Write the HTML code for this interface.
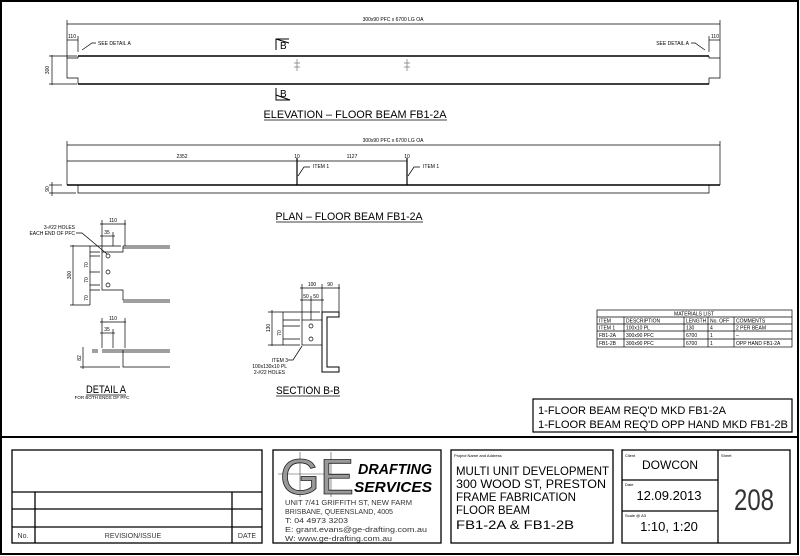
<!DOCTYPE html>
<html><head><meta charset="utf-8"><style>
html,body{margin:0;padding:0;background:#fff;}
svg{display:block;font-family:"Liberation Sans",sans-serif;}
</style></head><body>
<svg width="800" height="556" viewBox="0 0 800 556" xmlns="http://www.w3.org/2000/svg">
<rect x="1" y="1" width="797" height="553" fill="#fff" stroke="#000" stroke-width="2"/>
<line x1="1" y1="437" x2="799" y2="437" stroke="#000" stroke-width="2"/>

<g stroke="#000" fill="none" stroke-width="0.7">
<!-- ELEVATION -->
<line x1="67" y1="24" x2="720" y2="24"/>
<line x1="67" y1="20" x2="67" y2="58"/><line x1="720" y1="20" x2="720" y2="58"/>
<line x1="67" y1="40" x2="78" y2="40"/><line x1="78" y1="36" x2="78" y2="52"/>
<line x1="709" y1="40" x2="720" y2="40"/><line x1="709" y1="36" x2="709" y2="52"/>
<path d="M78 56 H709 M78 84 H709" stroke-width="1.6"/>
<path d="M78 56 V58 H67 V78 H78 V84 M709 56 V58 H720 V78 H709 V84"/>
<line x1="52" y1="55" x2="52" y2="85"/><line x1="49" y1="56" x2="77" y2="56"/><line x1="49" y1="84" x2="77" y2="84"/>
<path d="M82 50 L92 43 H96 M705 50 L695 43 H691"/>
<path d="M297 59 V71 M407 59 V71 M294 63 H300 M294 67 H300 M404 63 H410 M404 67 H410" stroke="#777"/>
<path d="M276 50 V39 H289 M276 39 L289 43" stroke-width="1"/>
<path d="M276 88 V100 H290 L276 95" stroke-width="1"/>
<line x1="264" y1="120" x2="447" y2="120"/>

<!-- PLAN -->
<line x1="67" y1="145" x2="720" y2="145"/><line x1="67" y1="161" x2="407" y2="161"/>
<line x1="67" y1="141" x2="67" y2="185"/><line x1="720" y1="141" x2="720" y2="185"/>
<path d="M67 185 H720" stroke-width="1.4"/>
<path d="M78 185 V193 H709 V185"/>
<line x1="49" y1="185" x2="62" y2="185"/><line x1="49" y1="193" x2="76" y2="193"/><line x1="52" y1="182" x2="52" y2="196"/>
<path d="M297 158 V185 M407 158 V185" stroke-width="1.2"/>
<path d="M298 176 L304 167 H310 M408 176 L414 167 H420"/>
<line x1="276" y1="222" x2="423" y2="222"/>

<!-- DETAIL A -->
<path d="M123 246 H170 M123 248 H170 M123 246 V252 H102 V290 H123 V300 H170 M123 302 H170" />
<circle cx="108" cy="256" r="2"/><circle cx="108" cy="272" r="2"/><circle cx="108" cy="285" r="2"/>
<line x1="100" y1="224" x2="126" y2="224"/><line x1="102" y1="220" x2="102" y2="252"/><line x1="125" y1="220" x2="125" y2="246"/>
<line x1="100" y1="236" x2="115" y2="236"/><line x1="113" y1="232" x2="113" y2="246"/>
<line x1="73" y1="245" x2="73" y2="305"/><line x1="70" y1="246" x2="121" y2="246"/><line x1="70" y1="305" x2="90" y2="305"/>
<line x1="90" y1="246" x2="90" y2="305"/>
<path d="M90 252 H100 M90 256 H100 M90 272 H100 M90 285 H100 M90 290 H100"/>
<path d="M76 233 H82 L107 254"/>
<path d="M102 350 H170 M102 352 H170 M123 350 V367 H170"/>
<path d="M92 350 H98 M92 352 H98"/>
<line x1="100" y1="322" x2="126" y2="322"/><line x1="102" y1="318" x2="102" y2="348"/><line x1="125" y1="318" x2="125" y2="348"/>
<line x1="100" y1="333" x2="115" y2="333"/><line x1="113" y1="329" x2="113" y2="348"/>
<line x1="83" y1="347" x2="83" y2="369"/><line x1="80" y1="367" x2="120" y2="367"/>
<line x1="86" y1="395" x2="126" y2="395"/>

<!-- SECTION B-B -->
<path d="M322 312 H339 V317 H327 V367 H339 V372 H322 Z" stroke-width="1"/>
<rect x="302" y="320" width="20" height="25"/>
<circle cx="311" cy="326" r="2"/><circle cx="311" cy="339" r="2"/>
<line x1="300" y1="288" x2="340" y2="288"/><line x1="302" y1="284" x2="302" y2="320"/><line x1="322" y1="284" x2="322" y2="312"/><line x1="339" y1="284" x2="339" y2="312"/>
<line x1="300" y1="300" x2="324" y2="300"/><line x1="311" y1="296" x2="311" y2="320"/>
<line x1="272" y1="310" x2="272" y2="346"/><line x1="268" y1="312" x2="320" y2="312"/><line x1="268" y1="345" x2="300" y2="345"/>
<line x1="283" y1="312" x2="283" y2="345"/>
<path d="M283 320 H300 M283 326 H300 M283 339 H300"/>
<path d="M288 360 H293 L302 346"/>
<line x1="276" y1="396" x2="340" y2="396"/>

<!-- MATERIALS -->
<rect x="597" y="310" width="195" height="37"/>
<path d="M597 317 H792 M597 324 H792 M597 331 H792 M597 339 H792 M624 317 V347 M684 317 V347 M708 317 V347 M734 317 V347"/>
<rect x="533" y="399" width="259" height="33" stroke-width="1.2"/>

<!-- TITLE BLOCK -->
<g stroke-width="1.3">
<rect x="12" y="450" width="250" height="93"/>
<path d="M12 492 H262 M12 509 H262 M12 527 H262 M35 492 V543 M232 492 V543"/>
<rect x="273" y="450" width="168" height="93"/>
<rect x="451" y="450" width="162" height="93"/>
<rect x="622" y="450" width="168" height="93"/>
<path d="M718 450 V543 M622 480 H718 M622 511 H718"/>
</g>
</g>

<g font-size="5" fill="#000">
<text x="393" y="21" text-anchor="middle">300x90 PFC x 6700 LG OA</text>
<text x="72" y="38" text-anchor="middle">110</text>
<text x="715" y="38" text-anchor="middle">110</text>
<text x="98" y="45">SEE DETAIL A</text>
<text x="689" y="45" text-anchor="end">SEE DETAIL A</text>
<text x="49" y="70" transform="rotate(-90 49 70)" text-anchor="middle">300</text>
<text x="393" y="142" text-anchor="middle">300x90 PFC x 6700 LG OA</text>
<text x="182" y="158" text-anchor="middle">2352</text>
<text x="297" y="158" text-anchor="middle">10</text>
<text x="352" y="158" text-anchor="middle">1127</text>
<text x="407" y="158" text-anchor="middle">10</text>
<text x="313" y="168">ITEM 1</text><text x="423" y="168">ITEM 1</text>
<text x="49" y="189" transform="rotate(-90 49 189)" text-anchor="middle">90</text>
<text x="113" y="222" text-anchor="middle">110</text>
<text x="107" y="234" text-anchor="middle">35</text>
<text x="75" y="229" text-anchor="end">3-#22 HOLES</text>
<text x="75" y="235" text-anchor="end">EACH END OF PFC</text>
<text x="71" y="275" transform="rotate(-90 71 275)" text-anchor="middle">300</text>
<text x="88" y="265" transform="rotate(-90 88 265)" text-anchor="middle">70</text>
<text x="88" y="280" transform="rotate(-90 88 280)" text-anchor="middle">70</text>
<text x="88" y="298" transform="rotate(-90 88 298)" text-anchor="middle">70</text>
<text x="113" y="320" text-anchor="middle">110</text>
<text x="107" y="331" text-anchor="middle">35</text>
<text x="81" y="358" transform="rotate(-90 81 358)" text-anchor="middle">82</text>
<text x="102" y="399" text-anchor="middle" font-size="4.5">FOR BOTH ENDS OF PFC</text>
<text x="312" y="286" text-anchor="middle">100</text>
<text x="330" y="286" text-anchor="middle">90</text>
<text x="306" y="298" text-anchor="middle">50</text>
<text x="316" y="298" text-anchor="middle">50</text>
<text x="270" y="328" transform="rotate(-90 270 328)" text-anchor="middle">130</text>
<text x="281" y="333" transform="rotate(-90 281 333)" text-anchor="middle">70</text>
<text x="288" y="362" text-anchor="end">ITEM 3</text>
<text x="287" y="368" text-anchor="end">100x130x10 PL</text>
<text x="285" y="374" text-anchor="end">2-#22 HOLES</text>
<text x="694" y="315.5" text-anchor="middle">MATERIALS LIST</text>
<text x="599" y="322.5">ITEM</text><text x="626" y="322.5">DESCRIPTION</text><text x="686" y="322.5">LENGTH</text><text x="710" y="322.5">No. OFF</text><text x="736" y="322.5">COMMENTS</text>
<text x="599" y="329.5">ITEM 1</text><text x="626" y="329.5">100x10 PL</text><text x="686" y="329.5">130</text><text x="710" y="329.5">4</text><text x="736" y="329.5">2 PER BEAM</text>
<text x="599" y="337">FB1-2A</text><text x="626" y="337">300x90 PFC</text><text x="686" y="337">6700</text><text x="710" y="337">1</text><text x="736" y="337">–</text>
<text x="599" y="345">FB1-2B</text><text x="626" y="345">300x90 PFC</text><text x="686" y="345">6700</text><text x="710" y="345">1</text><text x="736" y="345">OPP HAND FB1-2A</text>
<text x="454" y="457" font-size="4">Project Name and Address</text>
<text x="625" y="457" font-size="4">Client</text>
<text x="625" y="486" font-size="4">Date</text>
<text x="625" y="517" font-size="4">Scale @ A3</text>
<text x="721" y="457" font-size="4">Sheet</text>
</g>
<g fill="#000">
<text x="280" y="49" font-size="10">B</text>
<text x="280" y="97" font-size="10">B</text>
</g>
<g font-size="11" fill="#000">
<text x="355" y="118" text-anchor="middle" textLength="183" lengthAdjust="spacingAndGlyphs">ELEVATION – FLOOR BEAM FB1-2A</text>
<text x="349" y="220" text-anchor="middle" textLength="147" lengthAdjust="spacingAndGlyphs">PLAN – FLOOR BEAM FB1-2A</text>
<text x="106" y="393" text-anchor="middle" textLength="40" lengthAdjust="spacingAndGlyphs">DETAIL A</text>
<text x="308" y="394" text-anchor="middle" textLength="64" lengthAdjust="spacingAndGlyphs">SECTION B-B</text>
</g>
<g font-size="11" fill="#000">
<text x="538" y="414" textLength="188" lengthAdjust="spacingAndGlyphs">1-FLOOR BEAM REQ'D MKD FB1-2A</text>
<text x="538" y="428" textLength="250" lengthAdjust="spacingAndGlyphs">1-FLOOR BEAM REQ'D OPP HAND MKD FB1-2B</text>
</g>
<g font-size="7" fill="#333">
<text x="23" y="538" text-anchor="middle">No.</text>
<text x="133" y="538" text-anchor="middle">REVISION/ISSUE</text>
<text x="247" y="538" text-anchor="middle">DATE</text>
<text x="285" y="505" textLength="127" lengthAdjust="spacingAndGlyphs">UNIT 7/41 GRIFFITH ST, NEW FARM</text>
<text x="285" y="514" textLength="108" lengthAdjust="spacingAndGlyphs">BRISBANE, QUEENSLAND, 4005</text>
<text x="285" y="523" textLength="63" lengthAdjust="spacingAndGlyphs">T: 04 4973 3203</text>
<text x="285" y="532" textLength="142" lengthAdjust="spacingAndGlyphs">E: grant.evans@ge-drafting.com.au</text>
<text x="285" y="541" textLength="107" lengthAdjust="spacingAndGlyphs">W: www.ge-drafting.com.au</text>
</g>
<!-- logo -->
<g>
<line x1="278" y1="474" x2="350" y2="474" stroke="#444" stroke-width="0.6"/>
<line x1="300" y1="452" x2="300" y2="497" stroke="#444" stroke-width="0.6"/>
<line x1="331" y1="452" x2="331" y2="497" stroke="#444" stroke-width="0.6"/>
<text x="280" y="494" font-size="50" fill="#999" stroke="#222" stroke-width="0.8" textLength="74" lengthAdjust="spacingAndGlyphs">GE</text>
<text x="358" y="474" font-size="15" font-weight="bold" font-style="italic" textLength="74" lengthAdjust="spacingAndGlyphs">DRAFTING</text>
<text x="354" y="492" font-size="15" font-weight="bold" font-style="italic" textLength="78" lengthAdjust="spacingAndGlyphs">SERVICES</text>
</g>
<g font-size="12" fill="#000">
<text x="456" y="475" textLength="153" lengthAdjust="spacingAndGlyphs">MULTI UNIT DEVELOPMENT</text>
<text x="456" y="488" textLength="150" lengthAdjust="spacingAndGlyphs">300 WOOD ST, PRESTON</text>
<text x="456" y="501" textLength="120" lengthAdjust="spacingAndGlyphs">FRAME FABRICATION</text>
<text x="456" y="514" textLength="74" lengthAdjust="spacingAndGlyphs">FLOOR BEAM</text>
<text x="456" y="529" textLength="118" lengthAdjust="spacingAndGlyphs">FB1-2A &amp; FB1-2B</text>
<text x="670" y="469" text-anchor="middle">DOWCON</text>
<text x="669" y="500" text-anchor="middle" font-size="13">12.09.2013</text>
<text x="669" y="531" text-anchor="middle" font-size="13">1:10, 1:20</text>
<text x="754" y="510" text-anchor="middle" font-size="30" fill="#333" textLength="40" lengthAdjust="spacingAndGlyphs">208</text>
</g>
</svg>
</body></html>
